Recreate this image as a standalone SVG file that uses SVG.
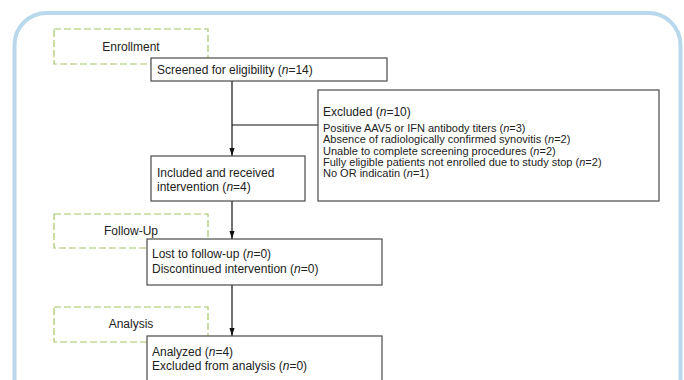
<svg xmlns="http://www.w3.org/2000/svg" width="684" height="380" viewBox="0 0 684 380">
<defs>
<style>
.box{fill:#fff;stroke:#4a4a4a;stroke-width:1.2}
.phase{fill:none;stroke:#a3c764;stroke-width:1.2;stroke-dasharray:7 3}
.t{font-family:"Liberation Sans",Arial,sans-serif;font-size:12px;fill:#222}
.s{font-family:"Liberation Sans",Arial,sans-serif;font-size:11px;fill:#222}
.c{text-anchor:middle}
.ln{fill:none;stroke:#111;stroke-width:1.2}
</style>
<marker id="ah" markerUnits="userSpaceOnUse" markerWidth="8" markerHeight="12" refX="11" refY="3.5" orient="auto" viewBox="0 0 11 7">
<path d="M0,0 L11,3.5 L0,7 Z" fill="#111"/>
</marker>
</defs>
<rect x="0" y="0" width="684" height="380" fill="#fff"/>
<rect id="frame" x="14.5" y="13" width="666" height="420" rx="32" ry="32" fill="#fff" stroke="#b9d8ec" stroke-width="4"/>

<g id="connectors">
<line class="ln" x1="232" y1="81" x2="232" y2="156" marker-end="url(#ah)"/>
<line class="ln" x1="232" y1="125" x2="318" y2="125"/>
<line class="ln" x1="232" y1="201" x2="232" y2="239" marker-end="url(#ah)"/>
<line class="ln" x1="232" y1="285" x2="232" y2="336" marker-end="url(#ah)"/>
</g>

<g id="enrollment">
<rect class="phase" x="54" y="29" width="154" height="35"/>
<text class="t c" x="131" y="51">Enrollment</text>
</g>
<g id="followup">
<rect class="phase" x="54" y="214" width="154" height="34"/>
<text class="t c" x="131" y="235">Follow-Up</text>
</g>
<g id="analysis">
<rect class="phase" x="54" y="307" width="154" height="35"/>
<text class="t c" x="131" y="328">Analysis</text>
</g>

<g id="screened">
<rect class="box" x="151" y="58" width="236" height="23"/>
<text class="t" x="157" y="74">Screened for eligibility (<tspan font-style="italic">n</tspan>=14)</text>
</g>

<g id="excluded">
<rect class="box" x="318" y="90" width="341" height="111"/>
<text class="t" x="323" y="116">Excluded (<tspan font-style="italic">n</tspan>=10)</text>
<text class="s" x="323" y="132">Positive AAV5 or IFN antibody titers (<tspan font-style="italic">n</tspan>=3)</text>
<text class="s" x="323" y="143">Absence of radiologically confirmed synovitis (<tspan font-style="italic">n</tspan>=2)</text>
<text class="s" x="323" y="155">Unable to complete screening procedures (<tspan font-style="italic">n</tspan>=2)</text>
<text class="s" x="323" y="166">Fully eligible patients not enrolled due to study stop (<tspan font-style="italic">n</tspan>=2)</text>
<text class="s" x="323" y="177">No OR indicatin (<tspan font-style="italic">n</tspan>=1)</text>
</g>

<g id="included">
<rect class="box" x="151" y="156" width="154" height="45"/>
<text class="t" x="157" y="177">Included and received</text>
<text class="t" x="157" y="191">intervention (<tspan font-style="italic">n</tspan>=4)</text>
</g>

<g id="followup-box">
<rect class="box" x="147" y="239" width="235" height="46"/>
<text class="t" x="152" y="258">Lost to follow-up (<tspan font-style="italic">n</tspan>=0)</text>
<text class="t" x="152" y="273">Discontinued intervention (<tspan font-style="italic">n</tspan>=0)</text>
</g>

<g id="analyzed">
<rect class="box" x="147" y="336" width="235" height="60"/>
<text class="t" x="152" y="356">Analyzed (<tspan font-style="italic">n</tspan>=4)</text>
<text class="t" x="152" y="370">Excluded from analysis (<tspan font-style="italic">n</tspan>=0)</text>
</g>
</svg>
